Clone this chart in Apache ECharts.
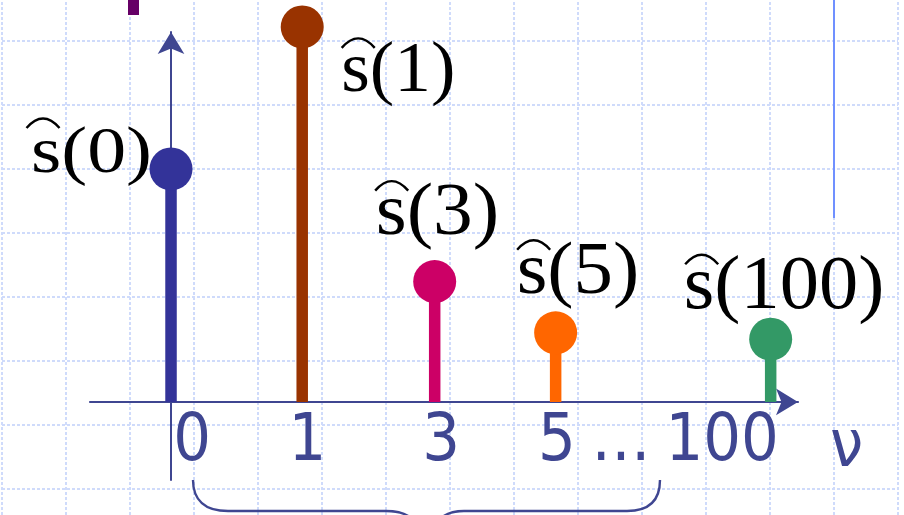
<!DOCTYPE html>
<html>
<head>
<meta charset="utf-8">
<script src="https://cdn.jsdelivr.net/npm/echarts@6/dist/echarts.min.js"></script>
<style>
  html, body { margin: 0; padding: 0; background: #fff; }
  #chart { width: 904px; height: 515px; }
</style>
</head>
<body>
<div id="chart"></div>
<script>
// stems: frequency index, where it sits on the drawn ν axis (grid cells), amplitude (grid cells)
const nuLabels = ['0', '1', '3', '5', '100']
const stemSlot = [0, 2.05, 4.12, 6.01, 9.37]
const amplitude = [3.64, 5.86, 1.88, 1.08, 0.98]

// tick labels under the ν axis
const tickLabels = ['0', '1', '3', '5', '…', '100']
const tickSlot = [0.33, 2.13, 4.22, 6.03, 7.03, 8.61]

// look
const stemColors = ['#333399', '#993300', '#cc0066', '#ff6600', '#339966']
const navy = '#3f4691'
const sansFont = '"DejaVu Sans Condensed", "DejaVu Sans", sans-serif'
// label placement relative to each dot: dx/dy of baseline anchor, font size, hat centre dx
const labelLayout = [
  { dx: -19, dy: 6, size: 66, align: 'right', scaleX: 1.18, hx: -128 },
  { dx: 39, dy: 68, size: 72, align: 'left', scaleX: 1.02, hx: 56 },
  { dx: -59, dy: -44, size: 75, align: 'left', scaleX: 1.06, hx: -43 },
  { dx: -39, dy: -36, size: 73, align: 'left', scaleX: 1.08, hx: -22 },
  { dx: -87, dy: -28, size: 77, align: 'left', scaleX: 1.02, hx: -69 },
]

const chart = echarts.init(document.getElementById('chart'))

const stemData = stemSlot.map((x, i) => [x, amplitude[i]])
const tickData = tickSlot.map((x) => [x, 0])

const renderStem = (params, api) => {
  const i = params.dataIndex
  const base = api.coord([api.value(0), 0])
  const top = api.coord([api.value(0), api.value(1)])
  const c = stemColors[i]
  return {
    type: 'group',
    children: [
      {
        type: 'line',
        shape: { x1: base[0], y1: base[1], x2: top[0], y2: top[1] },
        style: { stroke: c, lineWidth: 11.5 },
      },
      {
        type: 'circle',
        shape: { cx: top[0], cy: top[1], r: 21.5 },
        style: { fill: c },
      },
    ],
  }
}

const renderLabel = (params, api) => {
  const i = params.dataIndex
  const p = api.coord([api.value(0), api.value(1)])
  const L = labelLayout[i]
  const baseline = p[1] + L.dy
  const hx = p[0] + L.hx
  const hy = baseline - 47
  return {
    type: 'group',
    children: [
      {
        type: 'text',
        x: p[0] + L.dx,
        y: baseline - 0.31 * L.size,
        scaleX: L.scaleX,
        style: {
          text: 's(' + nuLabels[i] + ')',
          fontFamily: 'Liberation Serif',
          fontSize: L.size,
          fill: '#000',
          align: L.align,
          verticalAlign: 'middle',
        },
      },
      {
        // the hat over the s
        type: 'bezierCurve',
        shape: { x1: hx - 16.5, y1: hy, x2: hx + 16.5, y2: hy, cpx1: hx, cpy1: hy - 19 },
        style: { stroke: '#000', lineWidth: 2.4, fill: null },
      },
    ],
  }
}

const renderTick = (params, api) => {
  const p = api.coord([api.value(0), 0])
  return {
    type: 'text',
    x: p[0],
    y: p[1] + 41,
    style: {
      text: tickLabels[params.dataIndex],
      fontFamily: 'DejaVu Sans Condensed',
      fontSize: 66,
      fill: navy,
      align: 'center',
      verticalAlign: 'middle',
    },
  }
}

const gridLine = { show: true, lineStyle: { color: '#cfdbfb', width: 2, type: [3, 2] } }

const braceStyle = { stroke: navy, lineWidth: 2.4, fill: null }

const option = {
  backgroundColor: '#fff',
  animation: false,
  grid: [
    // background squares
    { left: 2, right: 6, top: -23, bottom: -38, outerBoundsMode: 'none' },
    // the plot
    { left: 90, right: 106, top: 32, bottom: 35, outerBoundsMode: 'none' },
  ],
  xAxis: [
    {
      gridIndex: 0, type: 'value', min: 0, max: 14, interval: 1,
      axisLine: { show: false }, axisTick: { show: false }, axisLabel: { show: false },
      splitLine: gridLine,
    },
    {
      gridIndex: 1, type: 'value', min: -1.266, max: 9.797,
      axisLine: {
        show: true, onZero: true,
        symbol: ['none', 'arrow'], symbolSize: [20, 22],
        lineStyle: { color: navy, width: 2.2 },
      },
      axisTick: { show: false },
      splitLine: { show: false },
      axisLabel: { show: false },
      name: 'ν',
      nameLocation: 'end',
      nameGap: 32,
      nameTextStyle: {
        color: navy,
        fontSize: 66,
        fontFamily: sansFont,
        align: 'left',
        verticalAlign: 'top',
        padding: [14, 0, 0, 0],
      },
    },
  ],
  yAxis: [
    {
      gridIndex: 0, type: 'value', min: 0, max: 9, interval: 1,
      axisLine: { show: false }, axisTick: { show: false }, axisLabel: { show: false },
      splitLine: gridLine,
    },
    {
      gridIndex: 1, type: 'value', min: -1.22, max: 5.78,
      axisLine: {
        show: true, onZero: true,
        symbol: ['none', 'arrow'], symbolSize: [20, 22],
        lineStyle: { color: navy, width: 2 },
      },
      axisTick: { show: false },
      axisLabel: { show: false },
      splitLine: { show: false },
    },
  ],
  series: [
    {
      type: 'custom',
      xAxisIndex: 1,
      yAxisIndex: 1,
      data: stemData,
      renderItem: renderStem,
      z: 3,
    },
    {
      type: 'custom',
      xAxisIndex: 1,
      yAxisIndex: 1,
      data: stemData,
      renderItem: renderLabel,
      z: 4,
    },
    {
      type: 'custom',
      xAxisIndex: 1,
      yAxisIndex: 1,
      data: tickData,
      renderItem: renderTick,
      z: 4,
    },
  ],
  graphic: [
    // curly brace under 0 … 100
    { type: 'bezierCurve', z: 10, shape: { x1: 193, y1: 480, cpx1: 193, cpy1: 500, cpx2: 205, cpy2: 511, x2: 228, y2: 511 }, style: braceStyle },
    { type: 'line', z: 10, shape: { x1: 228, y1: 511, x2: 386, y2: 511 }, style: braceStyle },
    { type: 'bezierCurve', z: 10, shape: { x1: 386, y1: 511, cpx1: 398, cpy1: 511, cpx2: 405, cpy2: 513, x2: 411, y2: 518 }, style: braceStyle },
    { type: 'bezierCurve', z: 10, shape: { x1: 441, y1: 518, cpx1: 447, cpy1: 513, cpx2: 453, cpy2: 511, x2: 464, y2: 511 }, style: braceStyle },
    { type: 'line', z: 10, shape: { x1: 464, y1: 511, x2: 627, y2: 511 }, style: braceStyle },
    { type: 'bezierCurve', z: 10, shape: { x1: 627, y1: 511, cpx1: 650, cpy1: 511, cpx2: 660, cpy2: 500, x2: 660, y2: 480 }, style: braceStyle },
    // bits of neighbouring slide objects
    { type: 'rect', z: 10, shape: { x: 128, y: 0, width: 11, height: 15 }, style: { fill: '#660066' } },
    { type: 'line', z: 10, shape: { x1: 834, y1: 0, x2: 834, y2: 218 }, style: { stroke: '#7090ff', lineWidth: 2 } },
  ],
}

chart.setOption(option)
</script>
</body>
</html>
